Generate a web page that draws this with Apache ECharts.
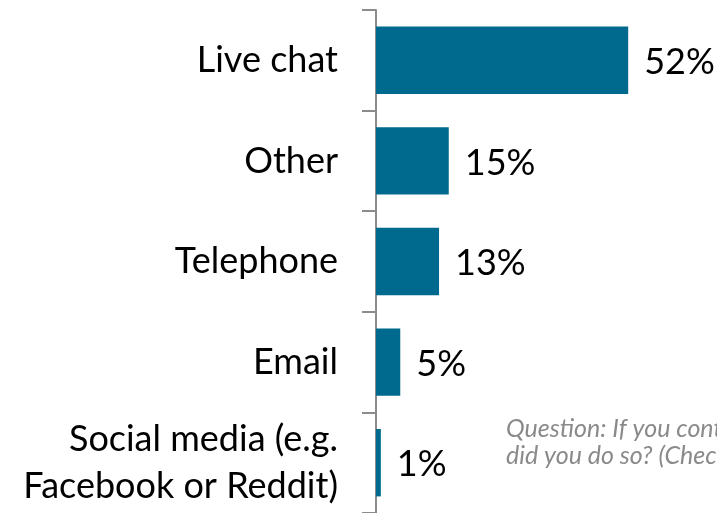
<!DOCTYPE html>
<html>
<head>
<meta charset="utf-8">
<script src="https://cdn.jsdelivr.net/npm/echarts@6/dist/echarts.min.js"></script>
<style>
  html, body { margin: 0; padding: 0; background: #fff; }
  #chart { width: 717px; height: 513px; }
</style>
</head>
<body>
<div id="chart"></div>
<script>
// Contact channels used, share of respondents (%)
const categories = ['Live chat', 'Other', 'Telephone', 'Email', 'Social media (e.g.\nFacebook or Reddit)'];
const shares = [52, 15, 13, 5, 1];
const questionLines = ['Question: If you contacted customer service, how', 'did you do so? (Check all that apply)'];

const chart = echarts.init(document.getElementById('chart'), null, { renderer: 'canvas' });

const labelFont = 'Lato, "Noto Sans", sans-serif';

chart.setOption({
  animation: false,
  backgroundColor: '#ffffff',
  grid: { left: 376, top: 10, height: 505, width: 291, containLabel: false },
  xAxis: {
    type: 'value',
    min: 0,
    max: 60,
    show: false
  },
  yAxis: {
    type: 'category',
    data: categories,
    inverse: true,
    axisLine: { show: true, lineStyle: { color: '#8c8c8c', width: 2 } },
    axisTick: { show: true, length: 14, lineStyle: { color: '#8c8c8c', width: 2 } },
    axisLabel: {
      margin: 38,
      color: '#000000',
      fontFamily: labelFont,
      fontSize: 36,
      lineHeight: 47,
      align: 'right'
    },
    splitLine: { show: false }
  },
  series: [{
    type: 'bar',
    data: shares,
    barCategoryGap: '33%',
    itemStyle: { color: '#006a8e' },
    label: {
      show: true,
      position: 'right',
      distance: 16,
      offset: [0, 2],
      formatter: '{c}%',
      color: '#000000',
      fontFamily: labelFont,
      fontSize: 36
    }
  }],
  graphic: [{
    type: 'text',
    left: 506,
    top: 415,
    style: {
      text: questionLines.join('\n'),
      fill: '#8a8a8a',
      font: 'italic 25px ' + labelFont,
      lineHeight: 27
    }
  }]
});
</script>
</body>
</html>
